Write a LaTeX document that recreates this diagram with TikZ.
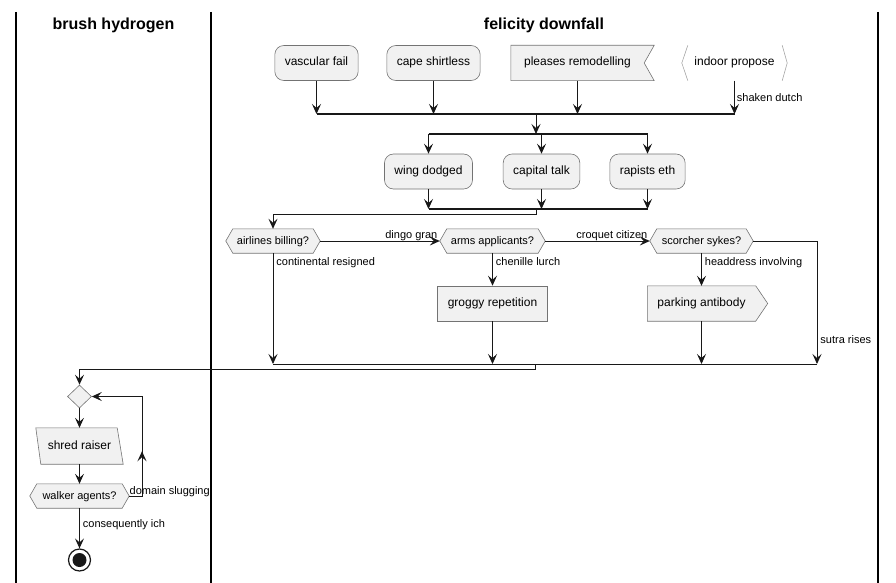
\documentclass[tikz,border=0pt]{standalone}
\usepackage{fontspec}
\setmainfont{Liberation Sans}
\usetikzlibrary{arrows.meta,shapes.geometric,calc,backgrounds}
\definecolor{actfill}{HTML}{F1F1F1}
\definecolor{actline}{HTML}{181818}

\begin{document}
\begin{tikzpicture}[x=1pt,y=-1pt,
    flow/.style={-{Stealth[length=10pt,width=9pt,inset=4pt]},line width=0.9pt,draw=actline},
    wire/.style={line width=0.9pt,draw=actline},
    bar/.style={line width=1.8pt,draw=actline},
    lane/.style={line width=1.4pt,draw=black},
    actbox/.style={rectangle,rounded corners=9pt,draw=black!55,fill=actfill,line width=0.6pt,
        minimum height=35pt,inner xsep=10pt,font=\boxfont,text height=8.5pt,text depth=2.5pt},
    plainbox/.style={actbox,rounded corners=0pt},
    shapetext/.style={rectangle,minimum height=35pt,inner sep=0pt,font=\boxfont,text height=8.5pt,text depth=2.5pt},
    decision/.style={rectangle,minimum height=24pt,inner sep=0pt,font=\labelfont,text height=8pt,text depth=2pt},
    outline/.style={draw=black!55,fill=actfill,line width=0.6pt},
    note/.style={font=\labelfont,inner sep=0pt}]
    \providecommand{\boxfont}{\fontsize{12}{14}\selectfont}
    \providecommand{\labelfont}{\fontsize{11}{13}\selectfont}
    \providecommand{\titlefont}{\fontsize{16}{19}\selectfont\bfseries}
    \pgfmathsetmacro{\hexdepth}{7}
    \providecommand{\hexagon}[1]{\path[outline] (#1.west) -- ([xshift=\hexdepth pt]#1.north west) -- ([xshift=-\hexdepth pt]#1.north east) -- (#1.east) -- ([xshift=-\hexdepth pt]#1.south east) -- ([xshift=\hexdepth pt]#1.south west) -- cycle;}
    \useasboundingbox (0,0) rectangle (896,583);

    % swimlanes
    \foreach \x in {16,211,878} \draw[lane] (\x,12) -- (\x,583);
    \node[font=\titlefont] (brush) at (113.5,25) {brush hydrogen};
    \node[font=\titlefont] (felicity) at (544,25) {felicity downfall};

    % first row
    \node[actbox] (vf) at (316.5,63) {vascular fail};
    \node[actbox] (cs) at (433.5,63) {cape shirtless};
    \node[shapetext,minimum width=133pt] (pr) at (577.5,63) {pleases remodelling};
    \node[shapetext,minimum width=105pt] (ip) at (734.5,63) {indoor propose};

    % fork rows
    \node[actbox] (wd) at (428.5,171.5) {wing dodged};
    \node[actbox] (ct) at (541.5,171.5) {capital talk};
    \node[actbox] (re) at (647.5,171.5) {rapists eth};

    % decisions
    \node[decision,minimum width=94pt] (ab) at (273,241) {airlines billing?};
    \node[decision,minimum width=105pt] (aa) at (492.5,241) {arms applicants?};
    \node[decision,minimum width=103pt] (ss) at (701.5,241) {scorcher sykes?};
    \node[plainbox,minimum width=110pt] (gr) at (492.5,303.5) {groggy repetition};
    \node[shapetext,minimum width=108pt] (pa) at (701.5,303.5) {parking antibody};

    % left lane
    \node[diamond,draw=black!55,fill=actfill,line width=0.6pt,minimum width=24pt,minimum height=23pt,inner sep=0pt] (dm) at (79.5,396.5) {};
    \node[shapetext,minimum width=87pt,minimum height=36pt] (sr) at (79.5,446) {shred raiser};
    \node[decision,minimum width=99pt] (wa) at (79.5,496) {walker agents?};
    \node[circle,draw=actline,line width=1.2pt,fill=white,minimum size=22pt,inner sep=0pt] (stop) at (79.5,560) {};
    \fill[actline] (stop.center) circle[radius=7pt];

    \begin{scope}[on background layer]
        \path[outline] (pr.north west) -- ([xshift=10pt]pr.north east) -- (pr.east) -- ([xshift=10pt]pr.south east) -- (pr.south west) -- cycle;
        \draw[black!35,line width=0.6pt] ([xshift=6pt]ip.north west) -- (ip.west) -- ([xshift=6pt]ip.south west);
        \draw[black!35,line width=0.6pt] ([xshift=-5pt]ip.north east) -- (ip.east) -- ([xshift=-5pt]ip.south east);
        \path[outline] (pa.north west) -- (pa.north east) -- ([xshift=12pt]pa.east) -- (pa.south east) -- (pa.south west) -- cycle;
        \path[outline] (sr.north west) -- ([xshift=-6pt]sr.north east) -- (sr.south east) -- ([xshift=5pt]sr.south west) -- cycle;
        \hexagon{ab}
        \hexagon{aa}
        \hexagon{ss}
        \hexagon{wa}
    \end{scope}

    % join and fork
    \coordinate (j1) at (536,114);
    \coordinate (f2) at (536,134);
    \coordinate (j3) at (536,209);
    \foreach \n in {vf,cs,pr} \draw[flow] (\n) -- (\n |- j1);
    \draw[flow] (ip) -- (ip |- j1) node[note,pos=0.5,right=2pt] {shaken dutch};
    \draw[bar] (vf |- j1) -- (ip |- j1);
    \draw[flow] (j1) -- (f2);
    \draw[bar] (wd |- f2) -- (re |- f2);
    \foreach \n in {wd,ct,re} \draw[flow] (\n |- f2) -- (\n);
    \foreach \n in {wd,ct,re} \draw[flow] (\n) -- (\n |- j3);
    \draw[bar] (wd |- j3) -- (re |- j3);
    \draw[flow] (j3) -- ++(0,5) -| (ab);

    % branches
    \coordinate (m4) at (535,364);
    \coordinate (sx) at (817,364);
    \draw[flow] (ab) -- (aa) node[note,pos=1,anchor=base east,xshift=-2pt,yshift=3pt] {dingo gran};
    \draw[flow] (aa) -- (ss) node[note,pos=1,anchor=base east,xshift=-2pt,yshift=3pt] {croquet citizen};
    \draw[flow] (ab) -- (ab |- m4) node[note,pos=0,anchor=north west,xshift=3pt,yshift=-4pt] {continental resigned};
    \draw[flow] (aa) -- (gr) node[note,pos=0,anchor=north west,xshift=3pt,yshift=-4pt] {chenille lurch};
    \draw[flow] (ss) -- (pa) node[note,pos=0,anchor=north west,xshift=3pt,yshift=-4pt] {headdress involving};
    \draw[flow] (gr) -- (gr |- m4);
    \draw[flow] (pa) -- (pa |- m4);
    \draw[flow] (ss) -| (sx) node[note,pos=0.9,right=3pt] {sutra rises};
    \draw[wire] (ab |- m4) -- (sx);
    \draw[flow] (m4) -- ++(0,5) -| (dm);

    % loop
    \coordinate (loopa) at (142,496);
    \coordinate (loopb) at (142,396.5);
    \draw[flow] (dm) -- (sr);
    \draw[flow] (sr) -- (wa);
    \draw[flow] (wa) -- (loopa) node[note,pos=0,anchor=base west,yshift=2pt] {domain slugging} -- ($(loopa)!0.45!(loopb)$);
    \draw[flow] ($(loopa)!0.4!(loopb)$) -- (loopb) -- (dm);
    \draw[flow] (wa) -- (stop) node[note,pos=0.42,right=3pt] {consequently ich};
\end{tikzpicture}
\end{document}
